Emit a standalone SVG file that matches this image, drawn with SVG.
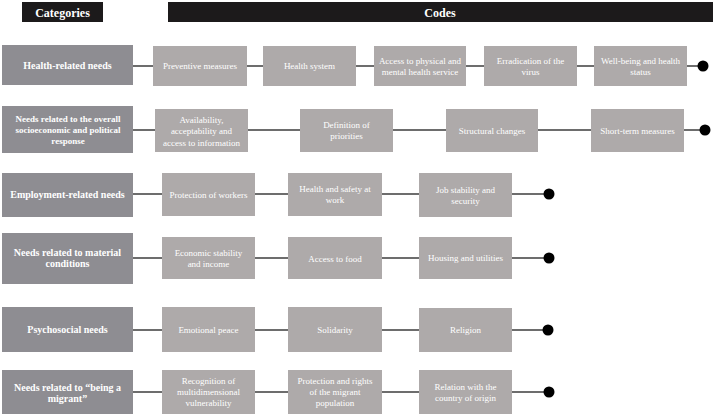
<svg xmlns="http://www.w3.org/2000/svg" width="715" height="417" viewBox="0 0 715 417">
<style>
.hdr{fill:#1c1a1b}
.ht{font-family:'Liberation Serif','Times New Roman',serif;font-weight:bold;font-size:12px;fill:#ffffff;text-anchor:middle}
.cat rect{fill:#8e8d92}
.cat text{font-family:'Liberation Serif','Times New Roman',serif;font-weight:bold;font-size:10px;fill:#ffffff;text-anchor:middle}
.cat text.sm{font-size:9px}
.code rect{fill:#aeaaaa}
.code text{font-family:'Liberation Serif','Times New Roman',serif;font-size:9px;fill:#ffffff;text-anchor:middle}
.ln{stroke:#3d3d3d;stroke-width:1.6;fill:none}
.dot{fill:#000000}
</style>
<g id="header">
<rect class="hdr" x="22" y="2" width="81" height="20"/>
<text class="ht" x="62.5" y="16.5">Categories</text>
<rect class="hdr" x="168" y="2" width="545" height="20"/>
<text class="ht" x="440" y="16.5">Codes</text>
</g>
<g id="connectors">
<line class="ln" x1="133" y1="66" x2="703" y2="66"/>
<circle class="dot" cx="703" cy="66" r="5.5"/>
<line class="ln" x1="133" y1="130" x2="705" y2="130"/>
<circle class="dot" cx="705" cy="130" r="5.5"/>
<line class="ln" x1="133" y1="194" x2="549" y2="194"/>
<circle class="dot" cx="549" cy="194" r="5.5"/>
<line class="ln" x1="133" y1="258" x2="549" y2="258"/>
<circle class="dot" cx="549" cy="258" r="5.5"/>
<line class="ln" x1="133" y1="330" x2="548" y2="330"/>
<circle class="dot" cx="548" cy="330" r="5.5"/>
<line class="ln" x1="133" y1="392" x2="549" y2="392"/>
<circle class="dot" cx="549" cy="392" r="5.5"/>
</g>
<g id="cat1" class="cat"><rect x="2" y="45" width="131" height="40"/><text x="67.5" y="69">Health-related needs</text></g>
<g id="c1a" class="code"><rect x="153" y="46" width="94" height="40"/><text x="200" y="69">Preventive measures</text></g>
<g id="c1b" class="code"><rect x="263" y="46" width="93" height="40"/><text x="309.5" y="69">Health system</text></g>
<g id="c1c" class="code"><rect x="374" y="46" width="92" height="40"/><text x="420" y="63.5">Access to physical and</text><text x="420" y="74.5">mental health service</text></g>
<g id="c1d" class="code"><rect x="484" y="46" width="93" height="40"/><text x="530.5" y="63.5">Erradication of the</text><text x="530.5" y="74.5">virus</text></g>
<g id="c1e" class="code"><rect x="594" y="46" width="93" height="40"/><text x="640.5" y="63.5">Well-being and health</text><text x="640.5" y="74.5">status</text></g>

<g id="cat2" class="cat"><rect x="2" y="106" width="131" height="47"/><text class="sm" x="68" y="122">Needs related to the overall</text><text class="sm" x="68" y="133">socioeconomic and political</text><text class="sm" x="68" y="144">response</text></g>
<g id="c2a" class="code"><rect x="155" y="109" width="93" height="43"/><text x="201.5" y="122.5">Availability,</text><text x="201.5" y="134">acceptability and</text><text x="201.5" y="145.5">access to information</text></g>
<g id="c2b" class="code"><rect x="300" y="109" width="93" height="43"/><text x="346.5" y="127.5">Definition of</text><text x="346.5" y="138.5">priorities</text></g>
<g id="c2c" class="code"><rect x="446" y="109" width="92" height="43"/><text x="492" y="133.5">Structural changes</text></g>
<g id="c2d" class="code"><rect x="591" y="109" width="93" height="43"/><text x="637.5" y="133.5">Short-term measures</text></g>

<g id="cat3" class="cat"><rect x="2" y="173" width="131" height="44"/><text x="67.5" y="198">Employment-related needs</text></g>
<g id="c3a" class="code"><rect x="162" y="173" width="93" height="43"/><text x="208.5" y="198">Protection of workers</text></g>
<g id="c3b" class="code"><rect x="288" y="173" width="94" height="43"/><text x="335" y="192">Health and safety at</text><text x="335" y="203">work</text></g>
<g id="c3c" class="code"><rect x="419" y="173" width="93" height="44"/><text x="465.5" y="192.5">Job stability and</text><text x="465.5" y="203.5">security</text></g>

<g id="cat4" class="cat"><rect x="2" y="233" width="131" height="51"/><text x="67.5" y="256">Needs related to material</text><text x="67.5" y="267">conditions</text></g>
<g id="c4a" class="code"><rect x="162" y="237" width="93" height="42"/><text x="208.5" y="256">Economic stability</text><text x="208.5" y="267">and income</text></g>
<g id="c4b" class="code"><rect x="288" y="237" width="94" height="42"/><text x="335" y="262">Access to food</text></g>
<g id="c4c" class="code"><rect x="419" y="237" width="93" height="42"/><text x="465.5" y="261">Housing and utilities</text></g>

<g id="cat5" class="cat"><rect x="2" y="307" width="131" height="45"/><text x="67.5" y="333">Psychosocial needs</text></g>
<g id="c5a" class="code"><rect x="162" y="307" width="93" height="45"/><text x="208.5" y="333">Emotional peace</text></g>
<g id="c5b" class="code"><rect x="288" y="307" width="94" height="45"/><text x="335" y="333">Solidarity</text></g>
<g id="c5c" class="code"><rect x="419" y="308" width="93" height="44"/><text x="465.5" y="333">Religion</text></g>

<g id="cat6" class="cat"><rect x="2" y="370" width="131" height="44"/><text x="67.5" y="391">Needs related to “being a</text><text x="67.5" y="402">migrant”</text></g>
<g id="c6a" class="code"><rect x="162" y="370" width="93" height="44"/><text x="208.5" y="384">Recognition of</text><text x="208.5" y="395">multidimensional</text><text x="208.5" y="406">vulnerability</text></g>
<g id="c6b" class="code"><rect x="288" y="370" width="94" height="44"/><text x="335" y="384">Protection and rights</text><text x="335" y="395">of the migrant</text><text x="335" y="406">population</text></g>
<g id="c6c" class="code"><rect x="419" y="370" width="93" height="44"/><text x="465.5" y="390">Relation with the</text><text x="465.5" y="401">country of origin</text></g>
</svg>
